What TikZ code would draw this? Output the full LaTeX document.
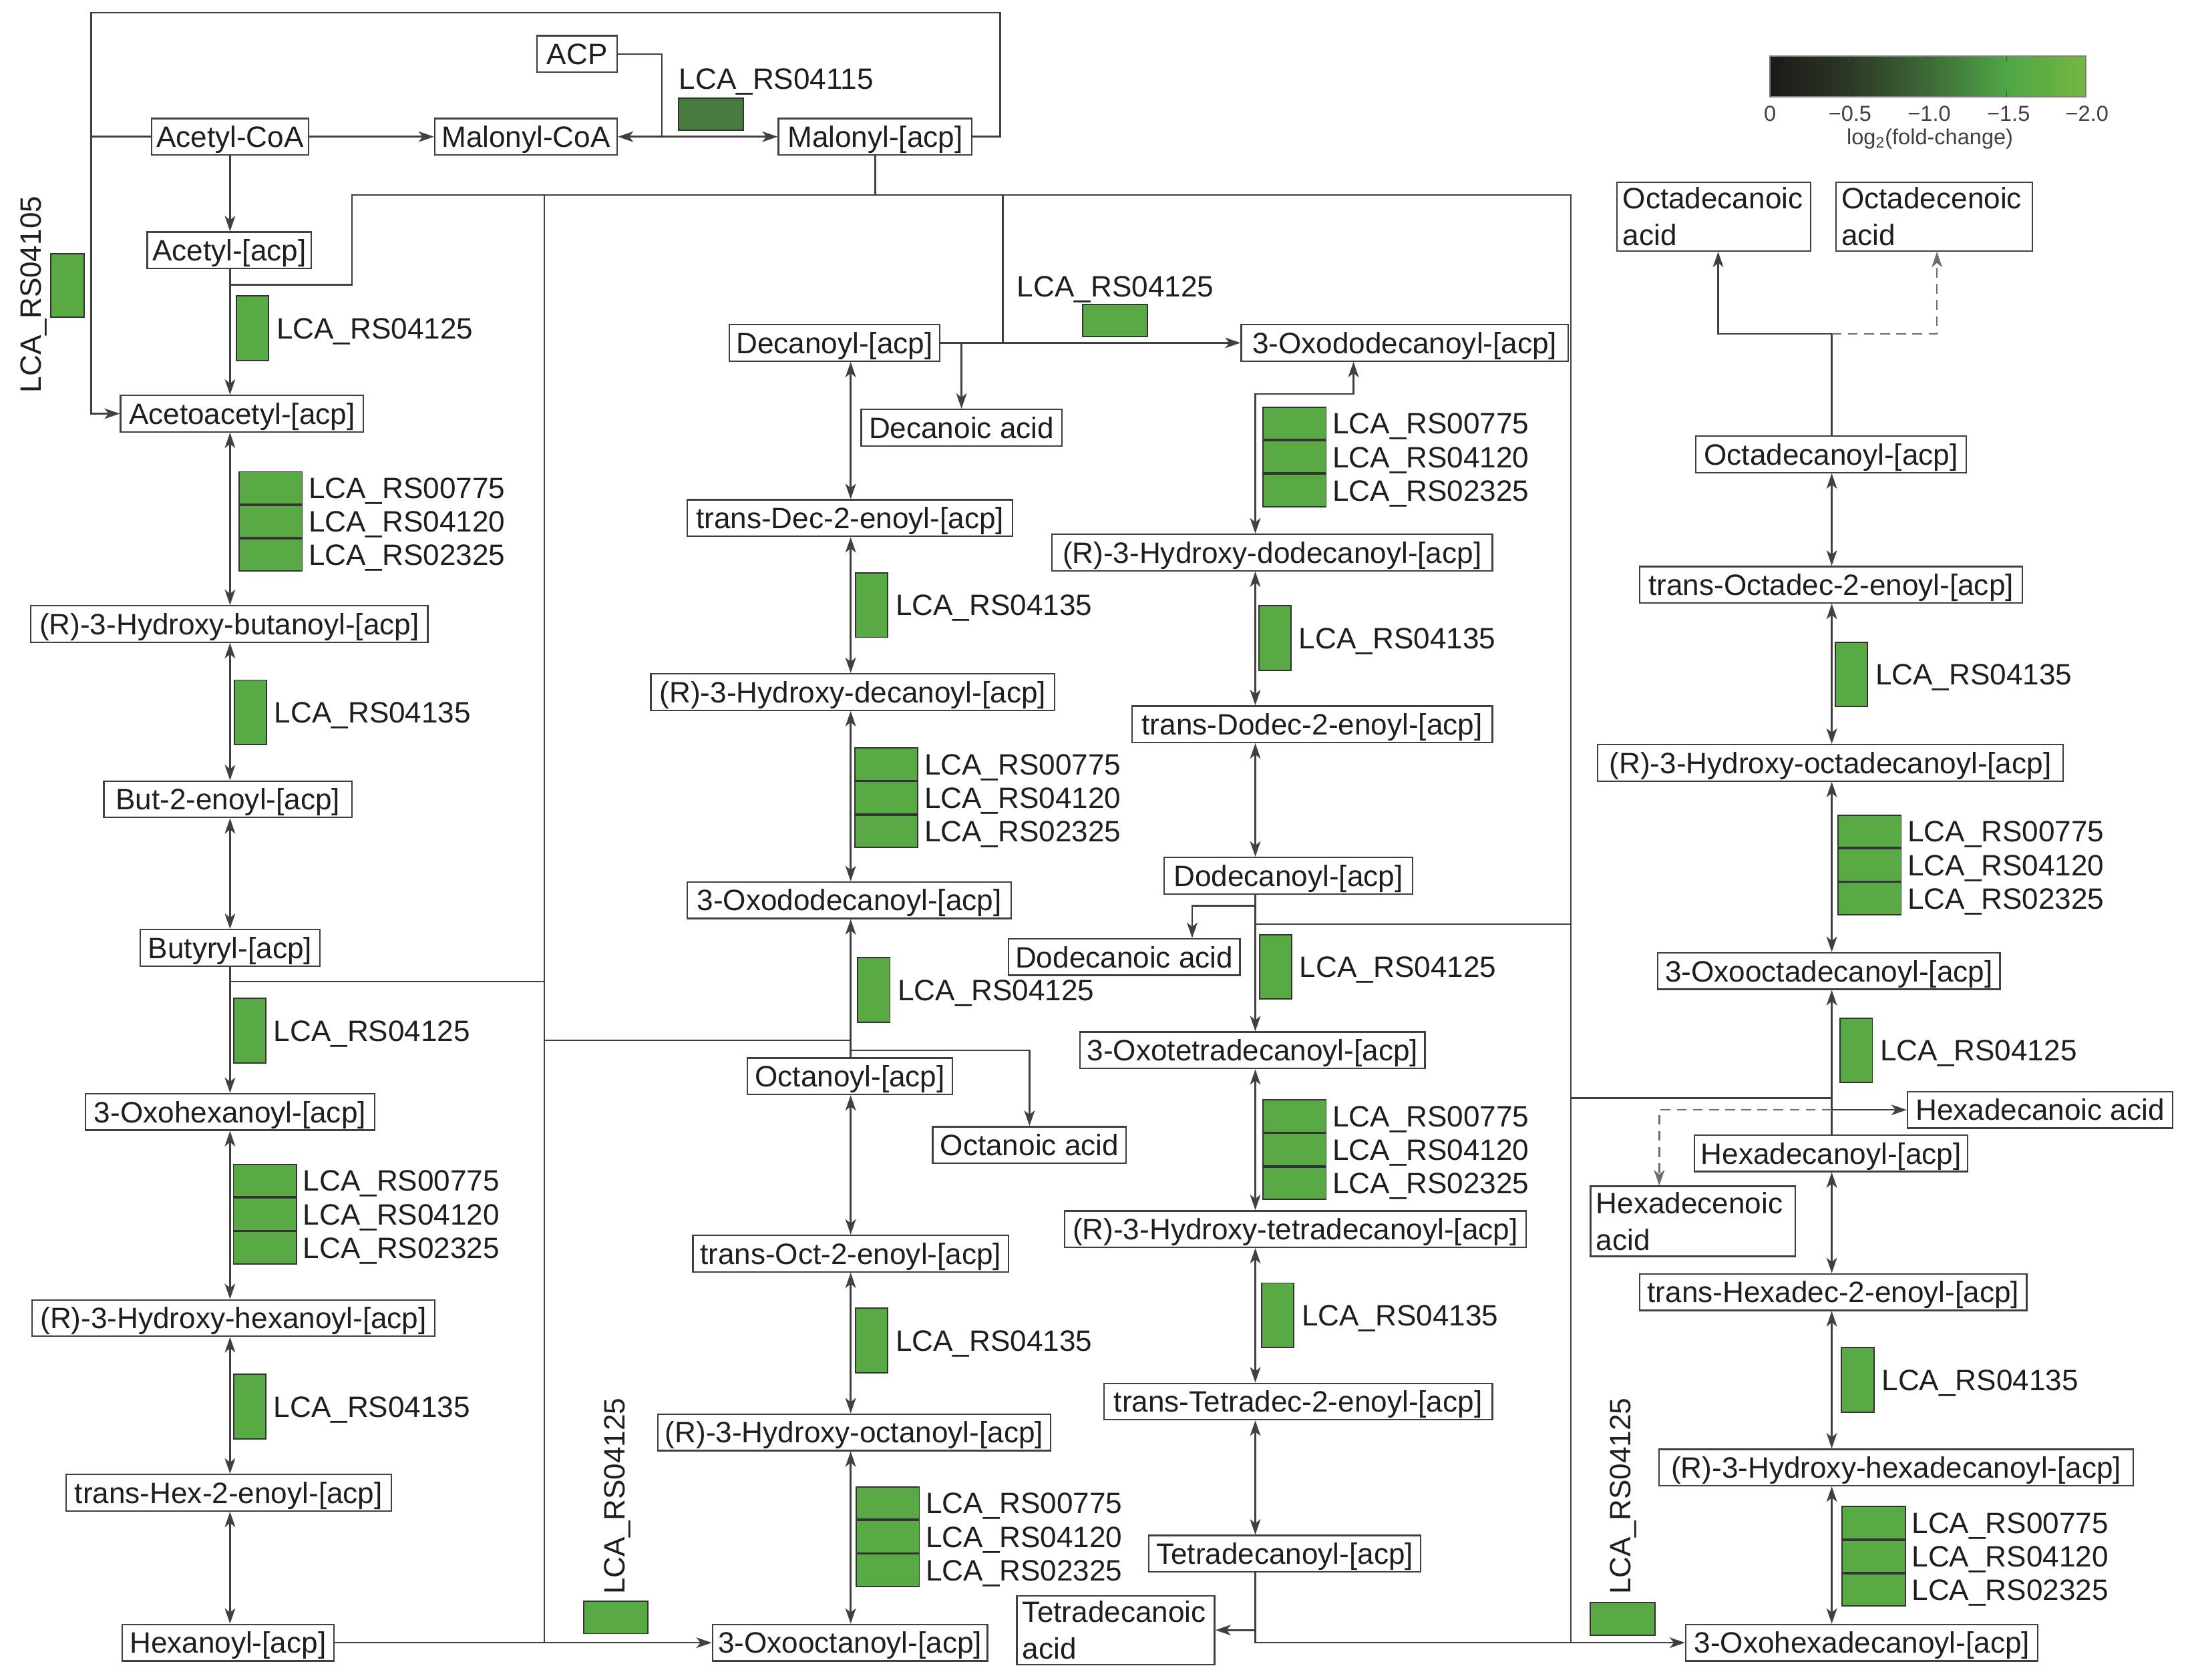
\documentclass[tikz,border=0pt]{standalone}
\usepackage{fontspec}
\setmainfont{Liberation Sans}
\usetikzlibrary{arrows.meta,calc}
\definecolor{linec}{HTML}{404040}
\definecolor{genegreen}{HTML}{59AA45}
\definecolor{darkgene}{HTML}{477A3D}
\definecolor{txt}{HTML}{1E1E1E}
\definecolor{cbA}{HTML}{1A1A18}
\definecolor{cbB}{HTML}{2C3827}
\definecolor{cbC}{HTML}{3D6A37}
\definecolor{cbD}{HTML}{4FA646}
\definecolor{cbE}{HTML}{74B640}
\newcommand{\bigfs}{\fontsize{21}{26}\selectfont}
\newcommand{\smallfs}{\fontsize{15.5}{18}\selectfont}
\newcommand{\mnode}[5]{\node[mbox, minimum width=#4pt] (#1) at (#2,#3) {#5};}
\newcommand{\onegene}[4]{%
  \node[gbox, minimum width=23pt, minimum height=46pt] (#1) at (#2,#3) {};
  \node[lab, anchor=west] (#1t) at ([xshift=5pt]#1.east) {#4};}
\newcommand{\threegene}[3]{%
  \node[gbox, anchor=north west, minimum width=45pt, minimum height=23pt] (#1a) at (#2,#3) {};
  \node[gbox, anchor=north, minimum width=45pt, minimum height=23pt] (#1b) at (#1a.south) {};
  \node[gbox, anchor=north, minimum width=45pt, minimum height=23pt] (#1c) at (#1b.south) {};
  \node[lab, anchor=west] (#1at) at ([xshift=4pt]#1a.east) {LCA\_RS00775};
  \node[lab, anchor=west] (#1bt) at ([xshift=4pt]#1b.east) {LCA\_RS04120};
  \node[lab, anchor=west] (#1ct) at ([xshift=4pt]#1c.east) {LCA\_RS02325};}
\begin{document}
\begin{tikzpicture}[x=1pt,y=-1pt,
  mbox/.style={draw=linec, line width=1.1pt, fill=white, text=txt, font=\bigfs, inner xsep=0pt, inner ysep=0pt, text height=15pt, text depth=0pt, minimum height=26pt},
  abox/.style={draw=linec, line width=1.1pt, fill=white, text=txt, font=\bigfs, inner xsep=4pt, inner ysep=0pt, align=left},
  gbox/.style={draw=black!80, line width=0.9pt, fill=genegreen, inner sep=0pt},
  lab/.style={text=txt, font=\bigfs, inner sep=0pt, text height=15pt, text depth=0pt},
  conn/.style={draw=linec, line width=1.2pt},
  oneway/.style={conn, -{Stealth[length=11pt,width=7.5pt,inset=3pt]}},
  twoway/.style={conn, {Stealth[length=11pt,width=7.5pt,inset=3pt]}-{Stealth[length=11pt,width=7.5pt,inset=3pt]}},
  dashway/.style={draw=gray!85!black, line width=1.2pt, dash pattern=on 7pt off 4.5pt, -{Stealth[length=11pt,width=7.5pt,inset=3pt]}},
  cbtxt/.style={text=txt!85, font=\smallfs, inner sep=0pt}
]
\fill[white] (0,0) rectangle (1560,1198);
\useasboundingbox (0,0) rectangle (1560,1198);

% column coordinates
\coordinate (c1) at (164,0);
\coordinate (c2) at (606.5,0);
\coordinate (c3) at (895,0);
\coordinate (c4) at (1306,0);
\coordinate (x965) at (965,0);
\coordinate (x850) at (850,0);
\coordinate (x1225) at (1225,0);
\coordinate (x1381) at (1381,0);
\coordinate (x1183) at (1183,0);
\coordinate (y139) at (0,139);

% ---------- boxes ----------
\mnode{acoa}{164}{97.5}{112}{Acetyl-CoA}
\mnode{mcoa}{375}{97.5}{130}{Malonyl-CoA}
\mnode{acp}{411.5}{38.5}{57}{ACP}
\mnode{macp}{624}{97.5}{138}{Malonyl-[acp]}
\mnode{aacp}{163.5}{178.5}{117}{Acetyl-[acp]}
\mnode{acac}{172.5}{295}{173}{Acetoacetyl-[acp]}
\mnode{hbut}{163.5}{445}{283}{(R)-3-Hydroxy-butanoyl-[acp]}
\mnode{but}{162.5}{570}{177}{But-2-enoyl-[acp]}
\mnode{buty}{164}{676}{128}{Butyryl-[acp]}
\mnode{ohex}{164}{793}{206}{3-Oxohexanoyl-[acp]}
\mnode{hhex}{166.5}{940}{287}{(R)-3-Hydroxy-hexanoyl-[acp]}
\mnode{thex}{163}{1064.5}{232}{trans-Hex-2-enoyl-[acp]}
\mnode{hexa}{162.5}{1171.5}{151}{Hexanoyl-[acp]}

\mnode{dec}{595}{244.5}{150}{Decanoyl-[acp]}
\mnode{decacid}{685.5}{305}{143}{Decanoic acid}
\mnode{tdec}{606}{369.5}{232}{trans-Dec-2-enoyl-[acp]}
\mnode{hdec}{608}{493.5}{288}{(R)-3-Hydroxy-decanoyl-[acp]}
\mnode{ododa}{605.5}{642}{231}{3-Oxododecanoyl-[acp]}
\mnode{oct}{606}{767.5}{146}{Octanoyl-[acp]}
\mnode{octacid}{734}{816.5}{138}{Octanoic acid}
\mnode{toct}{606.5}{894}{225}{trans-Oct-2-enoyl-[acp]}
\mnode{hoct}{609}{1021.5}{280}{(R)-3-Hydroxy-octanoyl-[acp]}
\mnode{ooct}{606}{1171.5}{196}{3-Oxooctanoyl-[acp]}

\mnode{odod}{1001.5}{244.5}{233}{3-Oxododecanoyl-[acp]}
\mnode{hdod}{907}{394}{314}{(R)-3-Hydroxy-dodecanoyl-[acp]}
\mnode{tdod}{935.5}{516.5}{257}{trans-Dodec-2-enoyl-[acp]}
\mnode{dod}{918.5}{624.5}{177}{Dodecanoyl-[acp]}
\mnode{dodacid}{801.5}{682.5}{165}{Dodecanoic acid}
\mnode{otet}{893}{749}{246}{3-Oxotetradecanoyl-[acp]}
\mnode{htet}{923.5}{876.5}{329}{(R)-3-Hydroxy-tetradecanoyl-[acp]}
\mnode{ttet}{925.5}{999.5}{277}{trans-Tetradec-2-enoyl-[acp]}
\mnode{tet}{916}{1108}{194}{Tetradecanoyl-[acp]}
\node[abox, text width=133pt, minimum height=49pt] (tetacid) at (795.5,1162.5) {Tetradecanoic\\acid};

\node[abox, text width=130pt, minimum height=49pt] (odcacid) at (1222,154.5) {Octadecanoic\\acid};
\node[abox, text width=132pt, minimum height=49pt] (odeacid) at (1379,154.5) {Octadecenoic\\acid};
\mnode{odc}{1305.5}{324}{193}{Octadecanoyl-[acp]}
\mnode{todc}{1305.5}{417}{273}{trans-Octadec-2-enoyl-[acp]}
\mnode{hodc}{1305}{544}{332}{(R)-3-Hydroxy-octadecanoyl-[acp]}
\mnode{oodc}{1304}{692.5}{244}{3-Oxooctadecanoyl-[acp]}
\mnode{hdaacid}{1454.5}{791.5}{189}{Hexadecanoic acid}
\mnode{hda}{1305.5}{822.5}{195}{Hexadecanoyl-[acp]}
\node[abox, text width=138pt, minimum height=50pt] (hdeacid) at (1207,871) {Hexadecenoic\\acid};
\mnode{thda}{1307}{921.5}{276}{trans-Hexadec-2-enoyl-[acp]}
\mnode{hhda}{1352}{1046.5}{338}{(R)-3-Hydroxy-hexadecanoyl-[acp]}
\mnode{ohda}{1327.5}{1171.5}{251}{3-Oxohexadecanoyl-[acp]}

% ---------- connectors ----------
% top
\draw[oneway] (acoa.east) -- (mcoa.west);
\draw[twoway] (mcoa.east) -- (macp.west);
\coordinate (acpj) at (472,97.5);
\draw[conn] (acp.east) -| (acpj);
\draw[oneway] (macp.east) -- (713,97.5) -- (713,9) -- (65,9) -- (65,295) -- (acac.west);
\draw[conn] (acoa.west) -- (65,97.5);
\draw[conn] (macp.south) -- (macp.south |- y139);
\draw[conn] (164,203) -- (251,203) -- (251,139) -- (1120,139) -- (1120,1171.5);
\draw[conn] (388,139) -- (388,1171.5);
\draw[conn] (715,139) -- (715,244.5);
\draw[conn] (164,700) -- (388,700);
\draw[conn] (388,742) -- (606.5,742);
\draw[conn] (895,659) -- (1120,659);
\draw[conn] (1120,783) -- (1306,783);
\draw[oneway] (hexa.east) -- (ooct.west);

% column 1
\draw[oneway] (acoa.south -| c1) -- (aacp.north -| c1);
\draw[oneway] (aacp.south -| c1) -- (acac.north -| c1);
\draw[twoway] (acac.south -| c1) -- (hbut.north -| c1);
\draw[twoway] (hbut.south -| c1) -- (but.north -| c1);
\draw[twoway] (but.south -| c1) -- (buty.north -| c1);
\draw[oneway] (buty.south -| c1) -- (ohex.north -| c1);
\draw[twoway] (ohex.south -| c1) -- (hhex.north -| c1);
\draw[twoway] (hhex.south -| c1) -- (thex.north -| c1);
\draw[twoway] (thex.south -| c1) -- (hexa.north -| c1);

% column 2
\draw[oneway] (dec.east) -- (odod.west);
\draw[oneway] (685.5,244.5) -- (decacid.north);
\draw[twoway] (dec.south -| c2) -- (tdec.north -| c2);
\draw[twoway] (tdec.south -| c2) -- (hdec.north -| c2);
\draw[twoway] (hdec.south -| c2) -- (ododa.north -| c2);
\draw[oneway] (oct.north -| c2) -- (ododa.south -| c2);
\draw[oneway] (606.5,749) -- (734,749) -- (octacid.north);
\draw[twoway] (oct.south -| c2) -- (toct.north -| c2);
\draw[twoway] (toct.south -| c2) -- (hoct.north -| c2);
\draw[twoway] (hoct.south -| c2) -- (ooct.north -| c2);

% column 3
\draw[twoway] (odod.south -| x965) -- (965,281) -- (895,281) -- (hdod.north -| c3);
\draw[twoway] (hdod.south -| c3) -- (tdod.north -| c3);
\draw[twoway] (tdod.south -| c3) -- (dod.north -| c3);
\draw[oneway] (dod.south -| c3) -- (otet.north -| c3);
\draw[oneway] (895,646) -- (850,646) -- (dodacid.north -| x850);
\draw[twoway] (otet.south -| c3) -- (htet.north -| c3);
\draw[twoway] (htet.south -| c3) -- (ttet.north -| c3);
\draw[twoway] (ttet.south -| c3) -- (tet.north -| c3);
\draw[oneway] (tet.south -| c3) -- (895,1171.5) -- (ohda.west);
\draw[oneway] (895,1162.5) -- (tetacid.east);

% column 4
\draw[oneway] (odc.north -| c4) -- (1306,238) -- (1225,238) -- (odcacid.south -| x1225);
\draw[dashway] (1306,238) -- (1381,238) -- (odeacid.south -| x1381);
\draw[twoway] (odc.south -| c4) -- (todc.north -| c4);
\draw[twoway] (todc.south -| c4) -- (hodc.north -| c4);
\draw[twoway] (hodc.south -| c4) -- (oodc.north -| c4);
\draw[oneway] (hda.north -| c4) -- (oodc.south -| c4);
\draw[oneway] (1306,791.5) -- (hdaacid.west);
\draw[dashway] (1306,791.5) -- (1183,791.5) -- (hdeacid.north -| x1183);
\draw[twoway] (hda.south -| c4) -- (thda.north -| c4);
\draw[twoway] (thda.south -| c4) -- (hhda.north -| c4);
\draw[twoway] (hhda.south -| c4) -- (ohda.north -| c4);

% ---------- genes ----------
\onegene{ga}{180}{234}{LCA\_RS04125}
\onegene{gb}{178.5}{508}{LCA\_RS04135}
\onegene{gc}{178}{735}{LCA\_RS04125}
\onegene{gd}{178}{1003}{LCA\_RS04135}
\onegene{ge}{621.5}{431.5}{LCA\_RS04135}
\onegene{gf}{623}{706}{LCA\_RS04125}
\onegene{gg}{621.5}{956}{LCA\_RS04135}
\onegene{gh}{909}{455}{LCA\_RS04135}
\onegene{gi}{909.5}{689.5}{LCA\_RS04125}
\onegene{gj}{911}{938}{LCA\_RS04135}
\onegene{gk}{1320}{481}{LCA\_RS04135}
\onegene{gl}{1323.5}{749}{LCA\_RS04125}
\onegene{gm}{1324.5}{984}{LCA\_RS04135}

\threegene{ta}{170}{336}
\threegene{tb}{166}{830}
\threegene{tc}{609}{533}
\threegene{td}{610}{1060}
\threegene{te}{900}{290}
\threegene{tf}{900}{784}
\threegene{tg}{1310}{581}
\threegene{th}{1313}{1074}

% horizontal / rotated gene boxes
\node[gbox, minimum width=46pt, minimum height=23pt] (hgA) at (795,228.5) {};
\node[lab, anchor=west] (hgAt) at (725,204) {LCA\_RS04125};
\node[gbox, fill=darkgene, minimum width=46pt, minimum height=23pt] (hgB) at (507,81.5) {};
\node[lab, anchor=west] (hgBt) at (484,56) {LCA\_RS04115};
\node[gbox, minimum width=24pt, minimum height=45pt] (rgA) at (48,203.5) {};
\node[lab, rotate=90] (rgAt) at (22,210) {LCA\_RS04105};
\node[gbox, minimum width=46pt, minimum height=23pt] (rgB) at (439,1153.5) {};
\node[lab, rotate=90] (rgBt) at (438,1067) {LCA\_RS04125};
\node[gbox, minimum width=46pt, minimum height=23pt] (rgC) at (1157,1154.5) {};
\node[lab, rotate=90] (rgCt) at (1155,1067) {LCA\_RS04125};

% ---------- colour bar ----------
\shade[left color=cbA, right color=cbB] (1262,40) rectangle (1318.5,69);
\shade[left color=cbB, right color=cbC] (1318.25,40) rectangle (1374.75,69);
\shade[left color=cbC, right color=cbD] (1374.5,40) rectangle (1431,69);
\shade[left color=cbD, right color=cbE] (1430.75,40) rectangle (1487,69);
\node[draw=gray, line width=0.8pt, minimum width=225pt, minimum height=29pt, inner sep=0pt] (cbar) at (1374.5,54.5) {};
\foreach \t in {1318.25,1374.5,1430.75}{
  \draw[black!70, line width=0.8pt] (\t,40) -- (\t,44);
  \draw[black!70, line width=0.8pt] (\t,65) -- (\t,69);
}
\node[cbtxt] (cb0) at (1262,81) {0};
\node[cbtxt] (cb1) at (1319,81) {−0.5};
\node[cbtxt] (cb2) at (1375.5,81) {−1.0};
\node[cbtxt] (cb3) at (1432,81) {−1.5};
\node[cbtxt] (cb4) at (1488,81) {−2.0};
\node[cbtxt] (cbl) at (1376,99) {log\textsubscript{2}(fold-change)};
\end{tikzpicture}
\end{document}
